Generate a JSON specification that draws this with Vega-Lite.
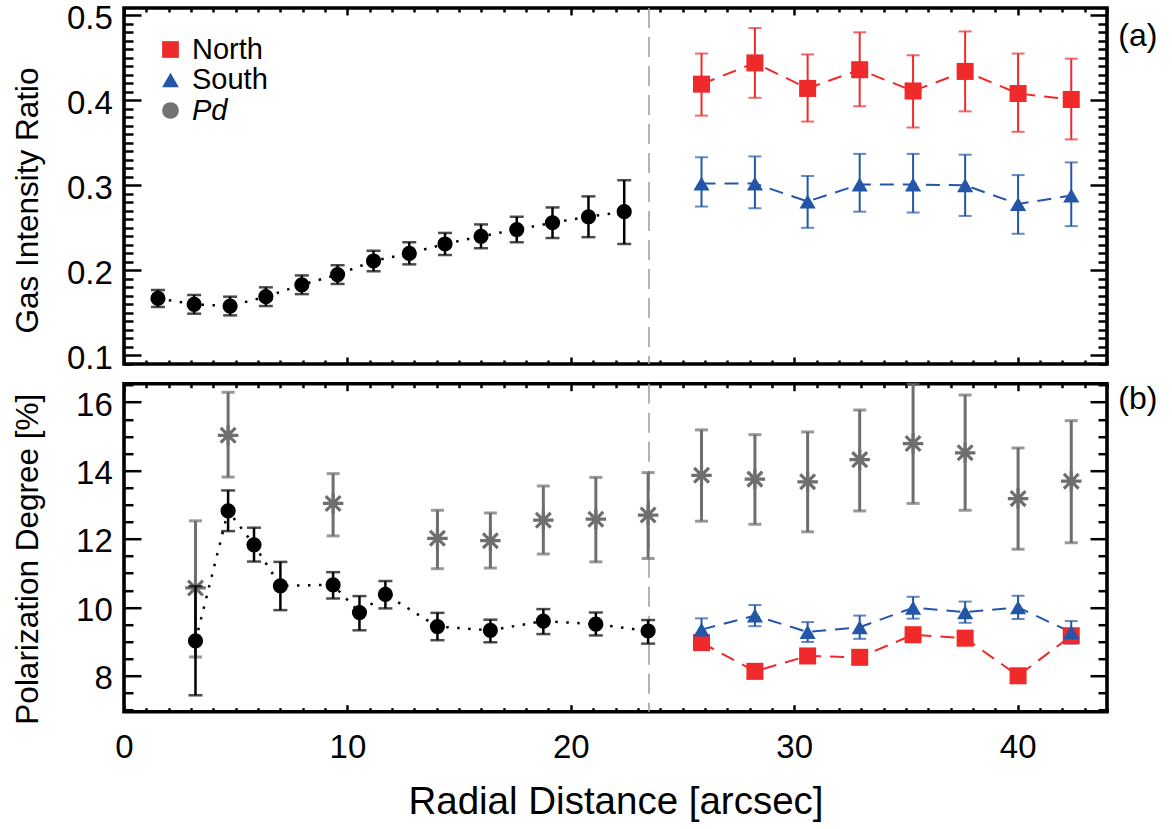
{
  "$schema": "https://vega.github.io/schema/vega-lite/v6.json",
  "background": "white",
  "padding": {"left": 10, "top": 0, "right": 5, "bottom": 5},
  "spacing": 19.7,
  "bounds": "flush",
  "config": {
    "font": "Liberation Sans",
    "view": {"stroke": "black", "strokeWidth": 3.6},
    "axis": {"domain": false, "grid": false, "labelFont": "Liberation Sans", "titleFont": "Liberation Sans", "labelColor": "black", "titleColor": "black", "tickColor": "black", "tickWidth": 2.5, "labelFontSize": 33, "titleFontWeight": "normal", "labelOverlap": false, "labelFlush": false, "labelBound": false}
  },
  "datasets": {
    "boundary": [{"r": 23.5}],
    "topInner": [
      {"r": 1.52, "v": 0.167, "lo": 0.157, "hi": 0.177},
      {"r": 3.14, "v": 0.160, "lo": 0.149, "hi": 0.171},
      {"r": 4.75, "v": 0.158, "lo": 0.147, "hi": 0.169},
      {"r": 6.35, "v": 0.169, "lo": 0.158, "hi": 0.180},
      {"r": 7.96, "v": 0.183, "lo": 0.172, "hi": 0.194},
      {"r": 9.56, "v": 0.195, "lo": 0.184, "hi": 0.206},
      {"r": 11.17, "v": 0.211, "lo": 0.199, "hi": 0.223},
      {"r": 12.77, "v": 0.220, "lo": 0.207, "hi": 0.233},
      {"r": 14.37, "v": 0.231, "lo": 0.218, "hi": 0.244},
      {"r": 15.98, "v": 0.240, "lo": 0.226, "hi": 0.254},
      {"r": 17.58, "v": 0.248, "lo": 0.233, "hi": 0.263},
      {"r": 19.18, "v": 0.256, "lo": 0.238, "hi": 0.274},
      {"r": 20.79, "v": 0.263, "lo": 0.239, "hi": 0.287},
      {"r": 22.39, "v": 0.269, "lo": 0.231, "hi": 0.306}
    ],
    "topNorth": [
      {"r": 25.85, "v": 0.419, "lo": 0.382, "hi": 0.455},
      {"r": 28.24, "v": 0.444, "lo": 0.403, "hi": 0.485},
      {"r": 30.60, "v": 0.414, "lo": 0.375, "hi": 0.454},
      {"r": 32.93, "v": 0.436, "lo": 0.393, "hi": 0.480},
      {"r": 35.32, "v": 0.411, "lo": 0.368, "hi": 0.453},
      {"r": 37.65, "v": 0.434, "lo": 0.387, "hi": 0.481},
      {"r": 40.02, "v": 0.408, "lo": 0.363, "hi": 0.455},
      {"r": 42.40, "v": 0.401, "lo": 0.354, "hi": 0.449}
    ],
    "topSouth": [
      {"r": 25.85, "v": 0.302, "lo": 0.275, "hi": 0.333},
      {"r": 28.24, "v": 0.302, "lo": 0.273, "hi": 0.334},
      {"r": 30.60, "v": 0.281, "lo": 0.250, "hi": 0.311},
      {"r": 32.93, "v": 0.301, "lo": 0.269, "hi": 0.337},
      {"r": 35.32, "v": 0.301, "lo": 0.268, "hi": 0.337},
      {"r": 37.65, "v": 0.300, "lo": 0.264, "hi": 0.336},
      {"r": 40.02, "v": 0.278, "lo": 0.243, "hi": 0.312},
      {"r": 42.40, "v": 0.288, "lo": 0.252, "hi": 0.327}
    ],
    "botInner": [
      {"r": 3.20, "v": 9.02, "lo": 7.43, "hi": 10.62},
      {"r": 4.66, "v": 12.82, "lo": 12.23, "hi": 13.42},
      {"r": 5.82, "v": 11.83, "lo": 11.34, "hi": 12.33},
      {"r": 7.00, "v": 10.63, "lo": 9.92, "hi": 11.33},
      {"r": 9.36, "v": 10.66, "lo": 10.26, "hi": 11.03},
      {"r": 10.54, "v": 9.85, "lo": 9.33, "hi": 10.33},
      {"r": 11.70, "v": 10.38, "lo": 9.97, "hi": 10.77},
      {"r": 14.03, "v": 9.44, "lo": 9.04, "hi": 9.84},
      {"r": 16.40, "v": 9.33, "lo": 8.98, "hi": 9.64},
      {"r": 18.77, "v": 9.60, "lo": 9.22, "hi": 9.95},
      {"r": 21.12, "v": 9.51, "lo": 9.18, "hi": 9.85},
      {"r": 23.46, "v": 9.31, "lo": 8.94, "hi": 9.63}
    ],
    "botGray": [
      {"r": 3.20, "v": 10.57, "lo": 8.55, "hi": 12.53},
      {"r": 4.66, "v": 15.03, "lo": 13.81, "hi": 16.29},
      {"r": 9.36, "v": 13.04, "lo": 12.09, "hi": 13.91},
      {"r": 14.03, "v": 12.02, "lo": 11.13, "hi": 12.84},
      {"r": 16.40, "v": 11.95, "lo": 11.15, "hi": 12.76},
      {"r": 18.77, "v": 12.55, "lo": 11.56, "hi": 13.55},
      {"r": 21.12, "v": 12.58, "lo": 11.33, "hi": 13.80},
      {"r": 23.46, "v": 12.70, "lo": 11.43, "hi": 13.94},
      {"r": 25.85, "v": 13.86, "lo": 12.52, "hi": 15.19},
      {"r": 28.24, "v": 13.75, "lo": 12.43, "hi": 15.05},
      {"r": 30.60, "v": 13.67, "lo": 12.21, "hi": 15.13},
      {"r": 32.93, "v": 14.32, "lo": 12.82, "hi": 15.77},
      {"r": 35.32, "v": 14.79, "lo": 13.04, "hi": 16.53},
      {"r": 37.65, "v": 14.52, "lo": 12.84, "hi": 16.21},
      {"r": 40.02, "v": 13.18, "lo": 11.70, "hi": 14.66},
      {"r": 42.40, "v": 13.69, "lo": 11.89, "hi": 15.46}
    ],
    "botNorth": [
      {"r": 25.85, "v": 8.97, "lo": 8.82, "hi": 9.12},
      {"r": 28.24, "v": 8.13, "lo": 7.98, "hi": 8.28},
      {"r": 30.60, "v": 8.58, "lo": 8.43, "hi": 8.73},
      {"r": 32.93, "v": 8.54, "lo": 8.39, "hi": 8.69},
      {"r": 35.32, "v": 9.20, "lo": 9.00, "hi": 9.40},
      {"r": 37.65, "v": 9.10, "lo": 8.90, "hi": 9.30},
      {"r": 40.02, "v": 8.00, "lo": 7.85, "hi": 8.15},
      {"r": 42.40, "v": 9.17, "lo": 8.97, "hi": 9.37}
    ],
    "botSouth": [
      {"r": 25.85, "v": 9.35, "lo": 9.02, "hi": 9.68},
      {"r": 28.24, "v": 9.76, "lo": 9.45, "hi": 10.07},
      {"r": 30.60, "v": 9.28, "lo": 8.99, "hi": 9.57},
      {"r": 32.93, "v": 9.42, "lo": 9.08, "hi": 9.76},
      {"r": 35.32, "v": 9.99, "lo": 9.67, "hi": 10.31},
      {"r": 37.65, "v": 9.86, "lo": 9.55, "hi": 10.17},
      {"r": 40.02, "v": 10.00, "lo": 9.66, "hi": 10.34},
      {"r": 42.40, "v": 9.27, "lo": 8.94, "hi": 9.60}
    ]
  },
  "resolve": {"scale": {"color": "independent", "shape": "independent"}, "legend": {"color": "independent", "shape": "independent"}},
  "vconcat": [
    {
      "width": 983,
      "height": 356,
      "title": {"text": "(a)", "orient": "right", "anchor": "start", "angle": 0, "align": "left", "baseline": "top", "offset": -29, "dy": 19, "fontSize": 32, "fontWeight": "normal", "font": "Liberation Sans", "color": "black"},
      "resolve": {"axis": {"x": "independent", "y": "independent"}},
      "layer": [
        {
          "data": {"name": "boundary"},
          "mark": {"type": "rule", "color": "#a0a0a0", "strokeWidth": 1.6, "strokeDash": [20, 9]},
          "encoding": {
            "x": {"field": "r", "type": "quantitative", "scale": {"domain": [0, 44], "nice": false, "zero": false},
              "axis": {"orient": "bottom", "values": [0,1,2,3,4,5,6,7,8,9,10,11,12,13,14,15,16,17,18,19,20,21,22,23,24,25,26,27,28,29,30,31,32,33,34,35,36,37,38,39,40,41,42,43,44],
                "tickSize": {"condition": {"test": "datum.value % 10 === 0", "value": -7}, "value": -4}, "labels": false, "title": null}}
          }
        },
        {
          "data": {"name": "topInner"},
          "mark": {"type": "line", "color": "black", "strokeWidth": 2.5, "strokeDash": [2.5, 8.5]},
          "encoding": {
            "x": {"field": "r", "type": "quantitative", "scale": {"domain": [0, 44], "nice": false, "zero": false},
              "axis": {"orient": "top", "values": [0,1,2,3,4,5,6,7,8,9,10,11,12,13,14,15,16,17,18,19,20,21,22,23,24,25,26,27,28,29,30,31,32,33,34,35,36,37,38,39,40,41,42,43,44],
                "tickSize": {"condition": {"test": "datum.value % 10 === 0", "value": -7}, "value": -4}, "labels": false, "title": null}},
            "y": {"field": "v", "type": "quantitative", "scale": {"domain": [0.0898, 0.5086], "nice": false, "zero": false},
              "axis": {"orient": "left", "values": [0.09,0.10,0.11,0.12,0.13,0.14,0.15,0.16,0.17,0.18,0.19,0.20,0.21,0.22,0.23,0.24,0.25,0.26,0.27,0.28,0.29,0.30,0.31,0.32,0.33,0.34,0.35,0.36,0.37,0.38,0.39,0.40,0.41,0.42,0.43,0.44,0.45,0.46,0.47,0.48,0.49,0.50],
                "tickSize": {"condition": {"test": "abs(datum.value*10 - round(datum.value*10)) < 0.001", "value": -17}, "value": -9},
                "labelExpr": "abs(datum.value*10 - round(datum.value*10)) < 0.001 ? format(datum.value, '.1f') : ''",
                "labelPadding": 28.7, "labelOffset": 3, "title": "Gas Intensity Ratio", "titleX": -87, "titleY": 192, "titleBaseline": "alphabetic", "titleFontSize": 31.5}}
          }
        },
        {
          "data": {"name": "topNorth"},
          "mark": {"type": "line", "color": "#EE2A2A", "strokeWidth": 2, "strokeDash": [14, 9]},
          "encoding": {
            "x": {"field": "r", "type": "quantitative", "scale": {"domain": [0, 44], "nice": false, "zero": false}, "axis": null},
            "y": {"field": "v", "type": "quantitative", "scale": {"domain": [0.0898, 0.5086], "nice": false, "zero": false},
              "axis": {"orient": "right", "values": [0.09,0.10,0.11,0.12,0.13,0.14,0.15,0.16,0.17,0.18,0.19,0.20,0.21,0.22,0.23,0.24,0.25,0.26,0.27,0.28,0.29,0.30,0.31,0.32,0.33,0.34,0.35,0.36,0.37,0.38,0.39,0.40,0.41,0.42,0.43,0.44,0.45,0.46,0.47,0.48,0.49,0.50],
                "tickSize": {"condition": {"test": "abs(datum.value*10 - round(datum.value*10)) < 0.001", "value": -17}, "value": -9},
                "labels": false, "title": null}}
          }
        },
        {
          "data": {"name": "topSouth"},
          "mark": {"type": "line", "color": "#2356A8", "strokeWidth": 2, "strokeDash": [14, 9]},
          "encoding": {
            "x": {"field": "r", "type": "quantitative", "scale": {"domain": [0, 44], "nice": false, "zero": false}, "axis": null},
            "y": {"field": "v", "type": "quantitative", "scale": {"domain": [0.0898, 0.5086], "nice": false, "zero": false}, "axis": null}
          }
        },
        {
          "data": {"name": "topInner"},
          "mark": {"type": "errorbar", "color": "black", "rule": {"strokeWidth": 2.5}, "ticks": {"size": 14, "thickness": 2.5}},
          "encoding": {
            "x": {"field": "r", "type": "quantitative", "scale": {"domain": [0, 44], "nice": false, "zero": false}, "axis": null},
            "y": {"field": "lo", "type": "quantitative", "scale": {"domain": [0.0898, 0.5086], "nice": false, "zero": false}, "axis": null},
            "y2": {"field": "hi"}
          }
        },
        {
          "data": {"name": "topNorth"},
          "mark": {"type": "errorbar", "color": "#EE2A2A", "rule": {"strokeWidth": 2}, "ticks": {"size": 13, "thickness": 2}},
          "encoding": {
            "x": {"field": "r", "type": "quantitative", "scale": {"domain": [0, 44], "nice": false, "zero": false}, "axis": null},
            "y": {"field": "lo", "type": "quantitative", "scale": {"domain": [0.0898, 0.5086], "nice": false, "zero": false}, "axis": null},
            "y2": {"field": "hi"}
          }
        },
        {
          "data": {"name": "topSouth"},
          "mark": {"type": "errorbar", "color": "#2356A8", "rule": {"strokeWidth": 2}, "ticks": {"size": 13, "thickness": 2}},
          "encoding": {
            "x": {"field": "r", "type": "quantitative", "scale": {"domain": [0, 44], "nice": false, "zero": false}, "axis": null},
            "y": {"field": "lo", "type": "quantitative", "scale": {"domain": [0.0898, 0.5086], "nice": false, "zero": false}, "axis": null},
            "y2": {"field": "hi"}
          }
        },
        {
          "data": {"name": "topInner"},
          "mark": {"type": "point", "filled": true, "color": "black", "size": 230, "opacity": 1},
          "encoding": {
            "x": {"field": "r", "type": "quantitative", "scale": {"domain": [0, 44], "nice": false, "zero": false}, "axis": null},
            "y": {"field": "v", "type": "quantitative", "scale": {"domain": [0.0898, 0.5086], "nice": false, "zero": false}, "axis": null}
          }
        },
        {
          "data": {"name": "topNorth"},
          "mark": {"type": "point", "filled": true, "size": 290, "opacity": 1},
          "encoding": {
            "x": {"field": "r", "type": "quantitative", "scale": {"domain": [0, 44], "nice": false, "zero": false}, "axis": null},
            "y": {"field": "v", "type": "quantitative", "scale": {"domain": [0.0898, 0.5086], "nice": false, "zero": false}, "axis": null},
            "color": {"datum": "North", "type": "nominal", "scale": {"domain": ["North", "South", "Pd"], "range": ["#EE2A2A", "#2356A8", "#737376"]},
              "legend": {"orient": "none", "legendX": 32, "legendY": 27, "title": null, "labelFontSize": 29, "labelFont": "Liberation Sans", "labelColor": "black", "symbolSize": 280, "labelOffset": 7, "rowPadding": 0.5, "padding": 0, "symbolStrokeWidth": 0,
                "labelFontStyle": {"expr": "datum.label === 'Pd' ? 'italic' : 'normal'"}}},
            "shape": {"datum": "North", "type": "nominal", "scale": {"domain": ["North", "South", "Pd"], "range": ["square", "triangle-up", "circle"]},
              "legend": {"orient": "none", "legendX": 32, "legendY": 27, "title": null, "labelFontSize": 29, "labelFont": "Liberation Sans", "labelColor": "black", "symbolSize": 280, "labelOffset": 7, "rowPadding": 0.5, "padding": 0, "symbolStrokeWidth": 0,
                "labelFontStyle": {"expr": "datum.label === 'Pd' ? 'italic' : 'normal'"}}}
          }
        },
        {
          "data": {"name": "topSouth"},
          "mark": {"type": "point", "filled": true, "size": 260, "opacity": 1},
          "encoding": {
            "x": {"field": "r", "type": "quantitative", "scale": {"domain": [0, 44], "nice": false, "zero": false}, "axis": null},
            "y": {"field": "v", "type": "quantitative", "scale": {"domain": [0.0898, 0.5086], "nice": false, "zero": false}, "axis": null},
            "color": {"datum": "South", "type": "nominal", "scale": {"domain": ["North", "South", "Pd"], "range": ["#EE2A2A", "#2356A8", "#737376"]}},
            "shape": {"datum": "South", "type": "nominal", "scale": {"domain": ["North", "South", "Pd"], "range": ["square", "triangle-up", "circle"]}}
          }
        }
      ]
    },
    {
      "width": 983,
      "height": 328,
      "title": {"text": "(b)", "orient": "right", "anchor": "start", "angle": 0, "align": "left", "baseline": "top", "offset": -29, "dy": 12, "fontSize": 32, "fontWeight": "normal", "font": "Liberation Sans", "color": "black"},
      "resolve": {"axis": {"x": "independent", "y": "independent"}},
      "layer": [
        {
          "data": {"name": "boundary"},
          "mark": {"type": "rule", "color": "#a0a0a0", "strokeWidth": 1.6, "strokeDash": [20, 9]},
          "encoding": {
            "x": {"field": "r", "type": "quantitative", "scale": {"domain": [0, 44], "nice": false, "zero": false},
              "axis": {"orient": "bottom", "values": [0,1,2,3,4,5,6,7,8,9,10,11,12,13,14,15,16,17,18,19,20,21,22,23,24,25,26,27,28,29,30,31,32,33,34,35,36,37,38,39,40,41,42,43,44],
                "tickSize": {"condition": {"test": "datum.value % 10 === 0", "value": -7}, "value": -4},
                "labelExpr": "datum.value % 10 === 0 ? format(datum.value, 'd') : ''", "labelPadding": 27,
                "title": "Radial Distance [arcsec]", "titleY": 102, "titleBaseline": "alphabetic", "titleFontSize": 38.5}}
          }
        },
        {
          "data": {"name": "botInner"},
          "mark": {"type": "line", "color": "black", "strokeWidth": 2.5, "strokeDash": [2.5, 8.5]},
          "encoding": {
            "x": {"field": "r", "type": "quantitative", "scale": {"domain": [0, 44], "nice": false, "zero": false},
              "axis": {"orient": "top", "values": [0,1,2,3,4,5,6,7,8,9,10,11,12,13,14,15,16,17,18,19,20,21,22,23,24,25,26,27,28,29,30,31,32,33,34,35,36,37,38,39,40,41,42,43,44],
                "tickSize": {"condition": {"test": "datum.value % 10 === 0", "value": -7}, "value": -4}, "labels": false, "title": null}},
            "y": {"field": "v", "type": "quantitative", "scale": {"domain": [6.95, 16.54], "nice": false, "zero": false},
              "axis": {"orient": "left", "values": [7,7.5,8,8.5,9,9.5,10,10.5,11,11.5,12,12.5,13,13.5,14,14.5,15,15.5,16,16.5],
                "tickSize": {"condition": {"test": "datum.value % 2 === 0", "value": -17}, "value": -9},
                "labelExpr": "datum.value % 2 === 0 ? format(datum.value, 'd') : ''",
                "labelPadding": 28.7, "labelOffset": 3, "title": "Polarization Degree [%]", "titleX": -87, "titleY": 175, "titleBaseline": "alphabetic", "titleFontSize": 31.5}}
          }
        },
        {
          "data": {"name": "botNorth"},
          "mark": {"type": "line", "color": "#EE2A2A", "strokeWidth": 2, "strokeDash": [14, 9]},
          "encoding": {
            "x": {"field": "r", "type": "quantitative", "scale": {"domain": [0, 44], "nice": false, "zero": false}, "axis": null},
            "y": {"field": "v", "type": "quantitative", "scale": {"domain": [6.95, 16.54], "nice": false, "zero": false},
              "axis": {"orient": "right", "values": [7,7.5,8,8.5,9,9.5,10,10.5,11,11.5,12,12.5,13,13.5,14,14.5,15,15.5,16,16.5],
                "tickSize": {"condition": {"test": "datum.value % 2 === 0", "value": -17}, "value": -9},
                "labels": false, "title": null}}
          }
        },
        {
          "data": {"name": "botSouth"},
          "mark": {"type": "line", "color": "#2356A8", "strokeWidth": 2, "strokeDash": [14, 9]},
          "encoding": {
            "x": {"field": "r", "type": "quantitative", "scale": {"domain": [0, 44], "nice": false, "zero": false}, "axis": null},
            "y": {"field": "v", "type": "quantitative", "scale": {"domain": [6.95, 16.54], "nice": false, "zero": false}, "axis": null}
          }
        },
        {
          "data": {"name": "botGray"},
          "mark": {"type": "errorbar", "color": "#6E6E6E", "rule": {"strokeWidth": 3}, "ticks": {"size": 13, "thickness": 3}},
          "encoding": {
            "x": {"field": "r", "type": "quantitative", "scale": {"domain": [0, 44], "nice": false, "zero": false}, "axis": null},
            "y": {"field": "lo", "type": "quantitative", "scale": {"domain": [6.95, 16.54], "nice": false, "zero": false}, "axis": null},
            "y2": {"field": "hi"}
          }
        },
        {
          "data": {"name": "botGray"},
          "mark": {"type": "point", "shape": "M-1,0L1,0M0,-1L0,1M-0.72,-0.72L0.72,0.72M-0.72,0.72L0.72,-0.72", "filled": false, "color": "#6E6E6E", "strokeWidth": 3.2, "size": 420, "opacity": 1},
          "encoding": {
            "x": {"field": "r", "type": "quantitative", "scale": {"domain": [0, 44], "nice": false, "zero": false}, "axis": null},
            "y": {"field": "v", "type": "quantitative", "scale": {"domain": [6.95, 16.54], "nice": false, "zero": false}, "axis": null}
          }
        },
        {
          "data": {"name": "botInner"},
          "mark": {"type": "errorbar", "color": "black", "rule": {"strokeWidth": 2.5}, "ticks": {"size": 14, "thickness": 2.5}},
          "encoding": {
            "x": {"field": "r", "type": "quantitative", "scale": {"domain": [0, 44], "nice": false, "zero": false}, "axis": null},
            "y": {"field": "lo", "type": "quantitative", "scale": {"domain": [6.95, 16.54], "nice": false, "zero": false}, "axis": null},
            "y2": {"field": "hi"}
          }
        },
        {
          "data": {"name": "botNorth"},
          "mark": {"type": "errorbar", "color": "#EE2A2A", "rule": {"strokeWidth": 2}, "ticks": {"size": 13, "thickness": 2}},
          "encoding": {
            "x": {"field": "r", "type": "quantitative", "scale": {"domain": [0, 44], "nice": false, "zero": false}, "axis": null},
            "y": {"field": "lo", "type": "quantitative", "scale": {"domain": [6.95, 16.54], "nice": false, "zero": false}, "axis": null},
            "y2": {"field": "hi"}
          }
        },
        {
          "data": {"name": "botSouth"},
          "mark": {"type": "errorbar", "color": "#2356A8", "rule": {"strokeWidth": 2}, "ticks": {"size": 13, "thickness": 2}},
          "encoding": {
            "x": {"field": "r", "type": "quantitative", "scale": {"domain": [0, 44], "nice": false, "zero": false}, "axis": null},
            "y": {"field": "lo", "type": "quantitative", "scale": {"domain": [6.95, 16.54], "nice": false, "zero": false}, "axis": null},
            "y2": {"field": "hi"}
          }
        },
        {
          "data": {"name": "botInner"},
          "mark": {"type": "point", "filled": true, "color": "black", "size": 230, "opacity": 1},
          "encoding": {
            "x": {"field": "r", "type": "quantitative", "scale": {"domain": [0, 44], "nice": false, "zero": false}, "axis": null},
            "y": {"field": "v", "type": "quantitative", "scale": {"domain": [6.95, 16.54], "nice": false, "zero": false}, "axis": null}
          }
        },
        {
          "data": {"name": "botNorth"},
          "mark": {"type": "point", "filled": true, "shape": "square", "color": "#EE2A2A", "size": 290, "opacity": 1},
          "encoding": {
            "x": {"field": "r", "type": "quantitative", "scale": {"domain": [0, 44], "nice": false, "zero": false}, "axis": null},
            "y": {"field": "v", "type": "quantitative", "scale": {"domain": [6.95, 16.54], "nice": false, "zero": false}, "axis": null}
          }
        },
        {
          "data": {"name": "botSouth"},
          "mark": {"type": "point", "filled": true, "shape": "triangle-up", "color": "#2356A8", "size": 260, "opacity": 1},
          "encoding": {
            "x": {"field": "r", "type": "quantitative", "scale": {"domain": [0, 44], "nice": false, "zero": false}, "axis": null},
            "y": {"field": "v", "type": "quantitative", "scale": {"domain": [6.95, 16.54], "nice": false, "zero": false}, "axis": null}
          }
        }
      ]
    }
  ]
}
